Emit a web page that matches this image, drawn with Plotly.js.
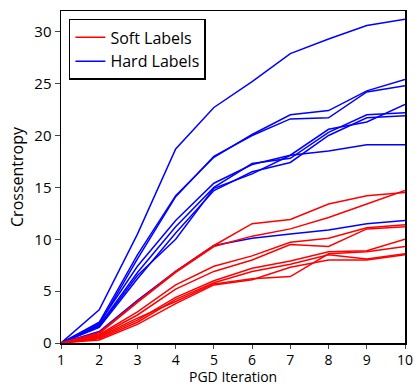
<!DOCTYPE html>
<html>
<head>
<meta charset="utf-8">
<script src="https://cdn.plot.ly/plotly-3.0.1.min.js"></script>
<style>html,body{margin:0;padding:0;background:#fff;}#chart{width:415px;height:390px;}</style>
</head>
<body>
<div id="chart"></div>
<script>
const iterations = [1, 2, 3, 4, 5, 6, 7, 8, 9, 10];

const softLabels = [
  [0, 1.0, 4.0, 6.9, 9.4, 11.5, 11.9, 13.4, 14.2, 14.5],
  [0, 0.9, 3.9, 6.8, 9.3, 10.3, 11.0, 12.1, 13.4, 14.7],
  [0, 0.8, 3.0, 5.6, 7.4, 8.4, 9.7, 10.1, 11.1, 11.4],
  [0, 0.7, 2.7, 5.2, 6.9, 8.0, 9.5, 9.3, 11.0, 11.2],
  [0, 0.5, 2.2, 4.4, 6.0, 7.2, 7.9, 8.8, 8.9, 10.0],
  [0, 0.4, 2.0, 4.2, 5.8, 6.9, 7.6, 8.5, 8.1, 8.6],
  [0, 0.6, 2.4, 4.0, 5.7, 6.2, 6.4, 8.6, 8.8, 9.3],
  [0, 0.3, 1.8, 3.8, 5.6, 6.1, 7.3, 8.0, 8.0, 8.5]
];

const hardLabels = [
  [0, 3.2, 10.5, 18.7, 22.7, 25.2, 27.9, 29.3, 30.6, 31.2],
  [0, 2.0, 8.5, 14.2, 17.9, 20.1, 22.0, 22.4, 24.3, 25.4],
  [0, 1.8, 8.1, 14.1, 18.0, 20.0, 21.6, 21.7, 24.2, 24.8],
  [0, 1.6, 6.5, 10.0, 14.9, 16.3, 18.1, 18.5, 19.1, 19.1],
  [0, 1.9, 7.4, 11.8, 15.4, 17.2, 18.1, 20.6, 21.3, 23.0],
  [0, 1.7, 6.8, 11.2, 15.0, 17.3, 17.8, 20.3, 22.0, 22.2],
  [0, 1.5, 6.2, 10.6, 14.7, 16.5, 17.4, 20.0, 21.7, 21.9],
  [0, 1.1, 4.1, 6.9, 9.4, 10.1, 10.5, 10.9, 11.5, 11.8]
];

const seriesNames = ["Soft Labels", "Hard Labels"];
const xTitle = "PGD Iteration";
const yTitle = "Crossentropy";
const xTicks = [1, 2, 3, 4, 5, 6, 7, 8, 9, 10];
const yTicks = [0, 5, 10, 15, 20, 25, 30];

const traces = [];
hardLabels.forEach((ys, i) => {
  traces.push({x: iterations, y: ys, type: 'scatter', mode: 'lines',
    line: {color: '#0000ff', width: 1.5}, name: seriesNames[1],
    showlegend: i === 0, legendrank: 2});
});
softLabels.forEach((ys, i) => {
  traces.push({x: iterations, y: ys, type: 'scatter', mode: 'lines',
    line: {color: '#ff0000', width: 1.5}, name: seriesNames[0],
    showlegend: i === 0, legendrank: 1});
});

const fontFam = 'Open Sans, sans-serif';
const layout = {
  width: 415, height: 390,
  margin: {l: 61, r: 10, t: 11, b: 47},
  paper_bgcolor: '#fff', plot_bgcolor: '#fff',
  font: {family: fontFam, size: 15, color: '#000'},
  showlegend: true,
  legend: {x: 0.023, y: 0.976, xanchor: 'left', yanchor: 'top',
    bordercolor: '#000', borderwidth: 1.5, bgcolor: '#fff',
    font: {family: fontFam, size: 16, color: '#000'}, tracegroupgap: 0},
  xaxis: {range: [1, 10], tickvals: xTicks, ticks: 'outside', ticklen: 4, tickwidth: 1,
    showline: true, linecolor: '#000', linewidth: 1.5, mirror: true, showgrid: false, zeroline: false,
    tickfont: {family: fontFam, size: 14}},
  yaxis: {range: [0, 32], tickvals: yTicks, ticks: 'outside', ticklen: 5, tickwidth: 1,
    showline: true, linecolor: '#000', linewidth: 1.5, mirror: true, showgrid: false, zeroline: false,
    tickfont: {family: fontFam, size: 15}, title: {text: yTitle, font: {family: fontFam, size: 16}, standoff: 6}},
  annotations: [{text: xTitle, xref: 'paper', yref: 'paper', x: 0.5, y: -0.137,
    xanchor: 'center', yanchor: 'bottom', showarrow: false, font: {family: fontFam, size: 14, color: '#000'}}]
};

Plotly.newPlot('chart', traces, layout, {displayModeBar: false, staticPlot: true});
</script>
</body>
</html>
